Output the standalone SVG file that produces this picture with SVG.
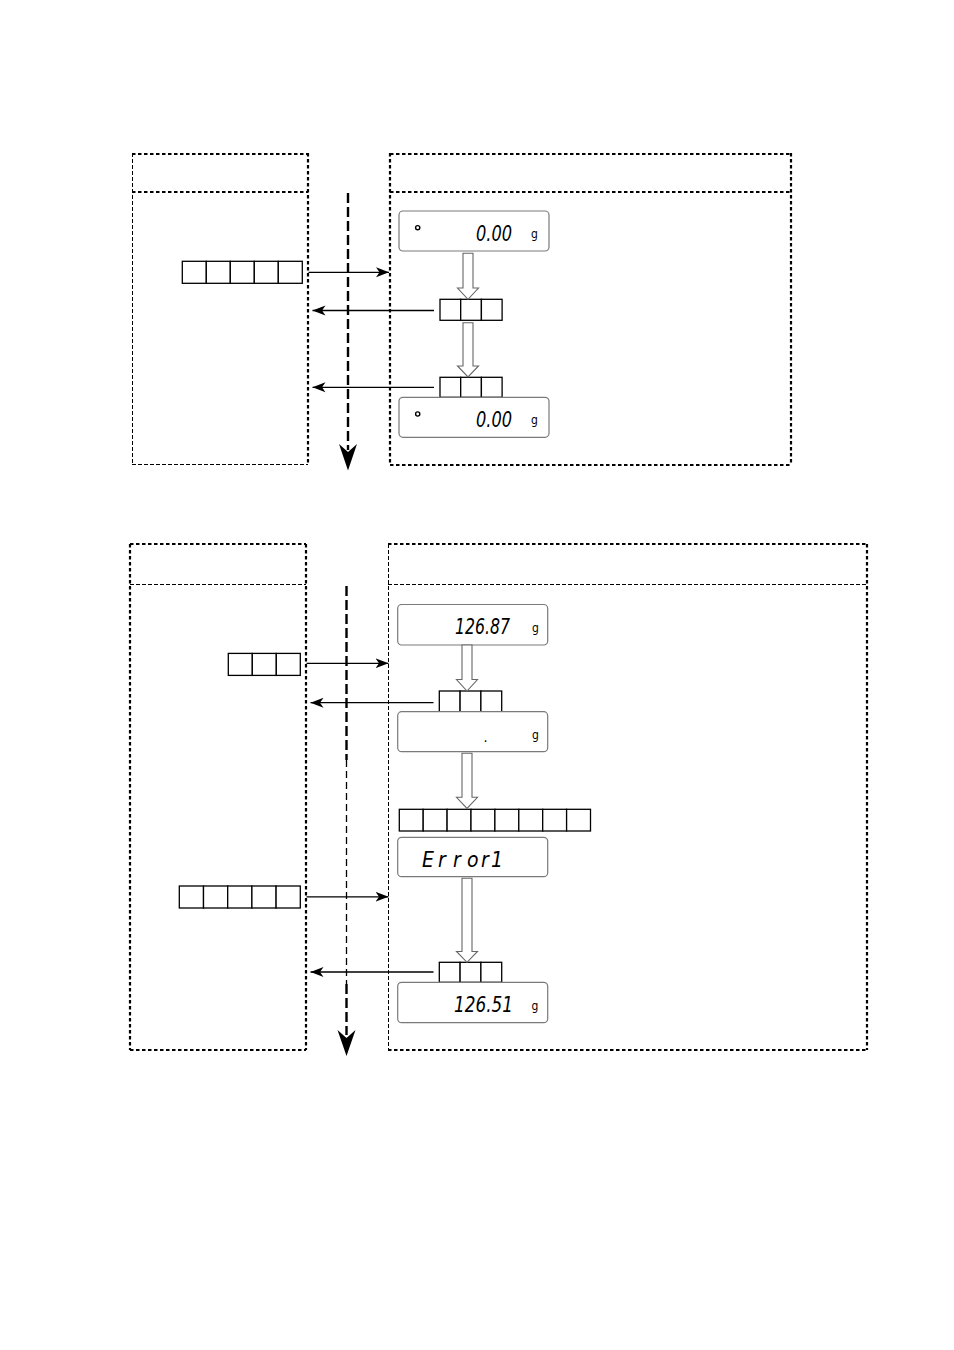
<svg xmlns="http://www.w3.org/2000/svg" width="954" height="1350" viewBox="0 0 954 1350">
<style>
.thick{fill:none;stroke:#000;stroke-width:2.2;stroke-dasharray:3.5 2.5}
.thin{fill:none;stroke:#000;stroke-width:1;stroke-dasharray:4 2}
.cell{fill:#fff;stroke:#000;stroke-width:1.3}
.disp{fill:#fff;stroke:#7a7a7a;stroke-width:1.2}
.hollow{fill:#fff;stroke:#666;stroke-width:1.1}
.conn{fill:none;stroke:#000;stroke-width:1.3}
.flow{fill:none;stroke:#000;stroke-width:2.4;stroke-dasharray:10 4}
.flowthin{fill:none;stroke:#000;stroke-width:1.3;stroke-dasharray:7 4}
.seg{font-family:"DejaVu Sans Condensed","Liberation Sans Narrow","Liberation Sans",sans-serif;font-stretch:condensed;font-style:italic;fill:#000}
.unit{font-family:"DejaVu Sans Condensed","Liberation Sans",sans-serif;font-stretch:condensed;font-size:12px;fill:#000}
</style>
<defs>
<marker id="ah" markerUnits="userSpaceOnUse" markerWidth="16" markerHeight="12" refX="13" refY="6" orient="auto">
<path d="M0,1 L13,6 L0,11 L3.5,6 Z" fill="#000"/>
</marker>
</defs>

<!-- TOP SECTION frames -->
<g id="top-left-frame">
<line class="thick" x1="132" y1="154" x2="308" y2="154"/>
<line class="thick" x1="132" y1="192" x2="308" y2="192"/>
<line class="thick" x1="308" y1="153" x2="308" y2="465"/>
<line class="thin" x1="132.5" y1="153" x2="132.5" y2="465"/>
<line class="thin" x1="132" y1="464.5" x2="308" y2="464.5"/>
</g>
<g id="top-right-frame">
<line class="thick" x1="390" y1="154" x2="791" y2="154"/>
<line class="thick" x1="390" y1="192" x2="791" y2="192"/>
<line class="thick" x1="390" y1="153" x2="390" y2="465"/>
<line class="thick" x1="791" y1="153" x2="791" y2="465"/>
<line class="thick" x1="390" y1="465" x2="791" y2="465"/>
</g>

<!-- BOTTOM SECTION frames -->
<g id="bottom-left-frame">
<line class="thick" x1="130" y1="544" x2="306" y2="544"/>
<line class="thin" x1="130" y1="584.5" x2="306" y2="584.5"/>
<line class="thick" x1="130" y1="544" x2="130" y2="1050"/>
<line class="thick" x1="306" y1="544" x2="306" y2="1050"/>
<line class="thick" x1="130" y1="1050" x2="306" y2="1050"/>
</g>
<g id="bottom-right-frame">
<line class="thick" x1="388" y1="544" x2="867" y2="544"/>
<line class="thin" x1="388" y1="584.5" x2="867" y2="584.5"/>
<line class="thin" x1="388.5" y1="544" x2="388.5" y2="1050"/>
<line class="thick" x1="867" y1="544" x2="867" y2="1050"/>
<line class="thick" x1="388" y1="1050" x2="867" y2="1050"/>
</g>

<!-- time flow arrows -->
<g id="timeline-top">
<line class="flow" x1="348" y1="193" x2="348" y2="450"/>
<path d="M339,444 L348,470.5 L357,444 L348,452 Z" fill="#000"/>
</g>
<g id="timeline-bottom">
<line class="flow" x1="346.5" y1="586" x2="346.5" y2="760"/>
<line class="flowthin" x1="346.5" y1="760" x2="346.5" y2="984"/>
<line class="flow" x1="346.5" y1="984" x2="346.5" y2="1035"/>
<path d="M337.5,1030 L346.5,1056 L355.5,1030 L346.5,1038 Z" fill="#000"/>
</g>

<!-- TOP nodes -->
<g id="top-cmd-5">
<rect class="cell" x="182.3" y="261.3" width="24" height="22"/>
<rect class="cell" x="206.3" y="261.3" width="24" height="22"/>
<rect class="cell" x="230.3" y="261.3" width="24" height="22"/>
<rect class="cell" x="254.3" y="261.3" width="24" height="22"/>
<rect class="cell" x="278.3" y="261.3" width="24" height="22"/>
</g>
<g id="top-display-1">
<rect class="disp" x="399" y="211" width="150" height="40" rx="4"/>
<circle cx="417.7" cy="227.7" r="2.1" fill="#fff" stroke="#000" stroke-width="1.4"/>
<text class="seg" x="476" y="240.7" font-size="22" textLength="36" lengthAdjust="spacingAndGlyphs">0.00</text>
<text class="unit" x="531" y="238">g</text>
</g>
<g id="top-ack-1">
<rect class="cell" x="440" y="299.3" width="20.7" height="21"/>
<rect class="cell" x="460.7" y="299.3" width="20.7" height="21"/>
<rect class="cell" x="481.4" y="299.3" width="20.7" height="21"/>
</g>
<g id="top-ack-2">
<rect class="cell" x="440" y="377.3" width="20.7" height="20"/>
<rect class="cell" x="460.7" y="377.3" width="20.7" height="20"/>
<rect class="cell" x="481.4" y="377.3" width="20.7" height="20"/>
</g>
<g id="top-display-2">
<rect class="disp" x="399" y="397.3" width="150" height="40" rx="4"/>
<circle cx="417.7" cy="414" r="2.1" fill="#fff" stroke="#000" stroke-width="1.4"/>
<text class="seg" x="476" y="427" font-size="22" textLength="36" lengthAdjust="spacingAndGlyphs">0.00</text>
<text class="unit" x="531" y="424.3">g</text>
</g>

<!-- BOTTOM nodes -->
<g id="bot-cmd-3">
<rect class="cell" x="228.3" y="653.4" width="24" height="22"/>
<rect class="cell" x="252.3" y="653.4" width="24" height="22"/>
<rect class="cell" x="276.3" y="653.4" width="24" height="22"/>
</g>
<g id="bot-display-1">
<rect class="disp" x="397.7" y="604.5" width="150" height="40.5" rx="4"/>
<text class="seg" x="455" y="634.3" font-size="22" textLength="55" lengthAdjust="spacingAndGlyphs">126.87</text>
<text class="unit" x="532" y="632">g</text>
</g>
<g id="bot-ack-1">
<rect class="cell" x="439.3" y="691" width="20.8" height="21.3"/>
<rect class="cell" x="460.1" y="691" width="20.8" height="21.3"/>
<rect class="cell" x="480.9" y="691" width="20.8" height="21.3"/>
</g>
<g id="bot-display-2">
<rect class="disp" x="397.7" y="711.7" width="150" height="40" rx="4"/>
<text class="seg" x="484" y="742" font-size="14">.</text>
<text class="unit" x="532" y="739">g</text>
</g>
<g id="bot-resp-8">
<rect class="cell" x="399.3" y="809.3" width="23.9" height="21.7"/>
<rect class="cell" x="423.2" y="809.3" width="23.9" height="21.7"/>
<rect class="cell" x="447.1" y="809.3" width="23.9" height="21.7"/>
<rect class="cell" x="471" y="809.3" width="23.9" height="21.7"/>
<rect class="cell" x="494.9" y="809.3" width="23.9" height="21.7"/>
<rect class="cell" x="518.8" y="809.3" width="23.9" height="21.7"/>
<rect class="cell" x="542.7" y="809.3" width="23.9" height="21.7"/>
<rect class="cell" x="566.6" y="809.3" width="23.9" height="21.7"/>
</g>
<g id="bot-display-error">
<rect class="disp" x="397.7" y="837.3" width="150" height="39.4" rx="4"/>
<text class="seg" x="422 438 453 467 481 488 491" y="867.3" font-size="21">Error 1</text>
</g>
<g id="bot-cmd-5">
<rect class="cell" x="179.3" y="886" width="24.2" height="22"/>
<rect class="cell" x="203.5" y="886" width="24.2" height="22"/>
<rect class="cell" x="227.7" y="886" width="24.2" height="22"/>
<rect class="cell" x="251.9" y="886" width="24.2" height="22"/>
<rect class="cell" x="276.1" y="886" width="24.2" height="22"/>
</g>
<g id="bot-ack-2">
<rect class="cell" x="439.3" y="962.3" width="20.8" height="20"/>
<rect class="cell" x="460.1" y="962.3" width="20.8" height="20"/>
<rect class="cell" x="480.9" y="962.3" width="20.8" height="20"/>
</g>
<g id="bot-display-3">
<rect class="disp" x="397.7" y="982.3" width="150" height="40.4" rx="4"/>
<text class="seg" x="454" y="1012" font-size="22" textLength="59" lengthAdjust="spacingAndGlyphs">126.51</text>
<text class="unit" x="531.5" y="1009.5">g</text>
</g>

<!-- connectors -->
<g id="connectors">
<line class="conn" x1="308.5" y1="272.3" x2="389" y2="272.3" marker-end="url(#ah)"/>
<line class="conn" x1="434" y1="310.5" x2="312.5" y2="310.5" marker-end="url(#ah)"/>
<line class="conn" x1="434" y1="387.3" x2="312.5" y2="387.3" marker-end="url(#ah)"/>
<line class="conn" x1="306.5" y1="663.3" x2="388.5" y2="663.3" marker-end="url(#ah)"/>
<line class="conn" x1="433.5" y1="702.7" x2="310.5" y2="702.7" marker-end="url(#ah)"/>
<line class="conn" x1="306.5" y1="896.8" x2="388.5" y2="896.8" marker-end="url(#ah)"/>
<line class="conn" x1="433.5" y1="972" x2="310.5" y2="972" marker-end="url(#ah)"/>
<!-- hollow flow arrows -->
<path class="hollow" d="M463,253.3 L473,253.3 L473,288 L478.5,288 L468,299.3 L457.5,288 L463,288 Z"/>
<path class="hollow" d="M463,322.7 L473,322.7 L473,366 L478.5,366 L468,377 L457.5,366 L463,366 Z"/>
<path class="hollow" d="M462,645 L472,645 L472,679.5 L477.5,679.5 L467,691 L456.5,679.5 L462,679.5 Z"/>
<path class="hollow" d="M462,753.3 L472,753.3 L472,797.3 L477.5,797.3 L467,808.5 L456.5,797.3 L462,797.3 Z"/>
<path class="hollow" d="M462,878.3 L472,878.3 L472,951.5 L477.5,951.5 L467,962.3 L456.5,951.5 L462,951.5 Z"/>
</g>
</svg>
